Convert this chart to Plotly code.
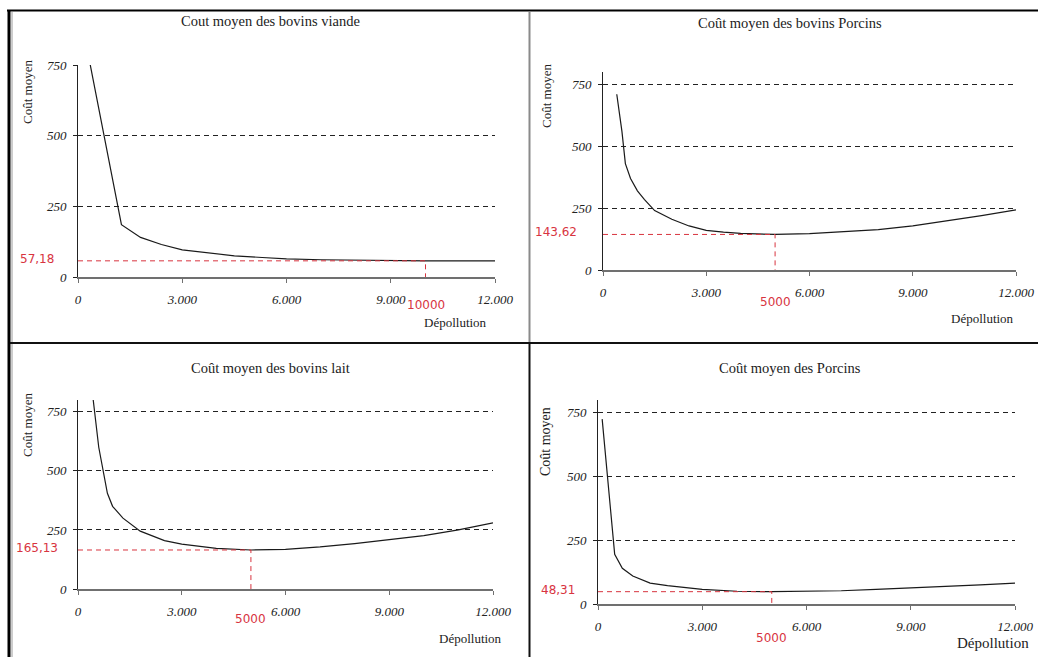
import plotly.graph_objects as go

PAGE_W, PAGE_H = 1038, 657
OFF = 0  # body margin removed by the post script below
W, H = PAGE_W - 2 * OFF, PAGE_H - 2 * OFF

# ---------------- data ----------------
titles = ["Cout moyen des bovins viande", "Coût moyen des bovins Porcins",
          "Coût moyen des bovins lait", "Coût moyen des Porcins"]

x_viande = [350, 1250, 1800, 2400, 3000, 3800, 4500, 5300, 6000, 7000, 8000, 9000, 10000, 11000, 12000]
y_viande = [752, 185, 140, 115, 96, 84, 75, 69, 64, 61, 59, 58, 57.18, 57, 57]

x_bporc = [400, 550, 650, 800, 1000, 1200, 1500, 2000, 2500, 3000, 3500, 4000, 5000, 6000, 7000, 8000, 9000, 10000, 11000, 12000]
y_bporc = [710, 560, 430, 370, 320, 285, 240, 205, 178, 160, 153, 148, 143.62, 147, 155, 163, 178, 198, 220, 243]

x_lait = [440, 600, 850, 1000, 1300, 1800, 2500, 3000, 4000, 5000, 6000, 7000, 8000, 9000, 10000, 11000, 12000]
y_lait = [800, 600, 405, 350, 300, 245, 205, 190, 172, 165.13, 168, 178, 192, 208, 226, 250, 280]

x_porc = [120, 300, 480, 700, 1000, 1500, 2000, 3000, 4000, 5000, 6000, 7000, 8000, 9000, 10000, 11000, 12000]
y_porc = [725, 470, 195, 140, 110, 82, 72, 57, 50, 48.31, 50, 52, 57, 62, 68, 75, 82]

series_x = [x_viande, x_bporc, x_lait, x_porc]
series_y = [y_viande, y_bporc, y_lait, y_porc]

opt_x = [10000, 5000, 5000, 5000]
opt_y = [57.18, 143.62, 165.13, 48.31]
opt_x_labels = ["10000", "5000", "5000", "5000"]
opt_y_labels = ["57,18", "143,62", "165,13", "48,31"]

x_tickvals = [0, 3000, 6000, 9000, 12000]
x_ticktext = ["0", "3.000", "6.000", "9.000", "12.000"]
y_tickvals = [0, 250, 500, 750]
y_ticktext = ["0", "250", "500", "750"]
y_max = [750, 800, 800, 800]

# ---------------- layout geometry (page pixels) ----------------
def px(x):
    return (x - OFF) / W

def py(y):
    return 1 - (y - OFF) / H

# (x_left, x_right, y_zero, y_top)
boxes = [(78, 495, 277, 65), (603, 1016, 270, 72), (78, 493, 589, 400), (598, 1015, 604, 400)]
title_pos = [(270, 21), (790, 23), (270, 368), (790, 368)]
ylab_pos = [(27, 92, 13), (546, 96, 13), (27, 425, 13), (545, 442, 14)]
xlab_pos = [(455, 323, 13), (982, 318, 13), (470, 638, 13), (993, 643, 15)]
optlab_x = [37, 556, 37, 558]
optlab_shift = [-28, -32, -30, -34]

RED = "#d8343f"
SERIF = "Liberation Serif"
SANS = "DejaVu Sans"
DASH = "5px,4px"

fig = go.Figure()
layout = dict(width=W, height=H, margin=dict(l=0, r=0, t=0, b=0, pad=0),
              paper_bgcolor="white", plot_bgcolor="white", showlegend=False)
annotations = []
shapes = []


def note(text, x, y, xref="paper", yref="paper", **kw):
    d = dict(text=text, x=x, y=y, xref=xref, yref=yref, showarrow=False,
             xanchor="center", yanchor="middle")
    d.update(kw)
    annotations.append(d)


for i in range(4):
    xa = "x" if i == 0 else f"x{i+1}"
    ya = "y" if i == 0 else f"y{i+1}"
    xl, xr, y0, yt = boxes[i]
    fig.add_trace(go.Scatter(x=series_x[i], y=series_y[i], mode="lines",
                             line=dict(color="#1a1a1a", width=1.2),
                             xaxis=xa, yaxis=ya, hoverinfo="skip"))
    # red optimum guide lines
    fig.add_trace(go.Scatter(x=[0, opt_x[i], opt_x[i]], y=[opt_y[i], opt_y[i], 0], mode="lines",
                             line=dict(color=RED, width=1, dash=DASH),
                             xaxis=xa, yaxis=ya, hoverinfo="skip"))
    xkey = "xaxis" if i == 0 else f"xaxis{i+1}"
    ykey = "yaxis" if i == 0 else f"yaxis{i+1}"
    tickfont = dict(family=SERIF, size=13, color="#222", style="italic")
    layout[xkey] = dict(domain=[px(xl), px(xr)], range=[0, 12000], anchor=ya, automargin=False,
                        showgrid=False, zeroline=False, showline=True, linecolor="#707070",
                        linewidth=1.5, ticks="outside", ticklen=4, tickcolor="#707070",
                        tickvals=x_tickvals, ticktext=x_ticktext, tickfont=tickfont,
                        ticklabelstandoff=6, ticklabeloverflow="allow", fixedrange=True)
    layout[ykey] = dict(domain=[py(y0), py(yt)], range=[0, y_max[i]], anchor=xa, automargin=False,
                        showgrid=True, gridcolor="#222", griddash=DASH, gridwidth=1,
                        zeroline=False, showline=True, linecolor="#222", linewidth=1,
                        ticks="outside", ticklen=4, tickcolor="#222",
                        tickvals=y_tickvals, ticktext=y_ticktext, tickfont=tickfont,
                        ticklabelstandoff=4, ticklabeloverflow="allow", fixedrange=True)
    tx, ty = title_pos[i]
    note(titles[i], px(tx), py(ty), font=dict(family=SERIF, size=14.5, color="#222"))
    lx, ly, ls = ylab_pos[i]
    note("Coût moyen", px(lx), py(ly), textangle=-90, font=dict(family=SERIF, size=ls, color="#222"))
    dx, dy, ds = xlab_pos[i]
    note("Dépollution", px(dx), py(dy), font=dict(family=SERIF, size=ds, color="#222"))
    note(opt_y_labels[i], px(optlab_x[i]), opt_y[i], yref=ya, yshift=2,
         font=dict(family=SANS, size=12, color=RED))
    note(opt_x_labels[i], opt_x[i], 0, xref=xa, yref=ya, yshift=optlab_shift[i],
         font=dict(family=SANS, size=12, color=RED))

# frame lines
def pline(x0, y0, x1, y1, color, width):
    shapes.append(dict(type="line", xref="paper", yref="paper", x0=px(x0), y0=py(y0),
                       x1=px(x1), y1=py(y1), line=dict(color=color, width=width)))

pline(9, 10, 9, 657, "#000", 3)
pline(12, 12, 12, 657, "#9a9a9a", 1)
pline(7, 10.5, 1038, 10.5, "#000", 2)
pline(529.5, 12, 529.5, 343, "#8a8a8a", 2)
pline(529.5, 343, 529.5, 657, "#111", 2)
pline(10, 343, 1038, 343, "#111", 2)

layout["annotations"] = annotations
layout["shapes"] = shapes
fig.update_layout(**layout)
fig.write_html("out.html", config={"displayModeBar": False},
               post_script="document.body.style.margin='0';document.body.style.overflow='hidden';")
